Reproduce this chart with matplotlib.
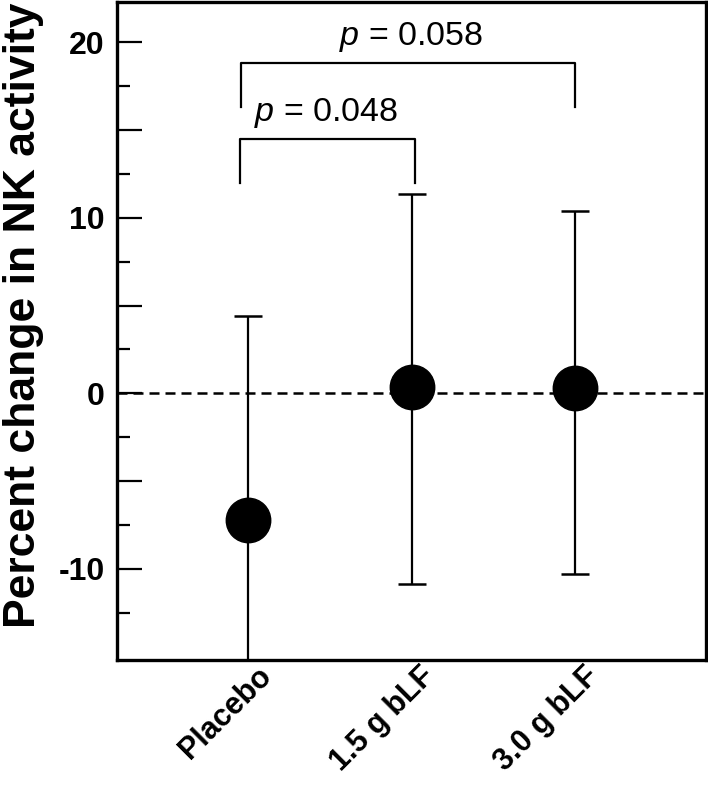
import matplotlib
matplotlib.use('Agg')
import matplotlib.pyplot as plt
import matplotlib.transforms as mtransforms
from matplotlib.ticker import FixedLocator, FixedFormatter

plt.rcParams['font.family'] = ['Liberation Sans', 'DejaVu Sans']
plt.rcParams['mathtext.fontset'] = 'custom'
plt.rcParams['mathtext.it'] = 'Liberation Sans:italic'
plt.rcParams['mathtext.rm'] = 'Liberation Sans'

groups = ['Placebo', '1.5 g bLF', '3.0 g bLF']
means = [-7.2, 0.35, 0.3]
sd_upper = [11.6, 11.0, 10.1]
sd_lower = [11.6, 11.2, 10.6]

# significance brackets: (x_left, x_right, leg_bottom, bar_top, label, text_x, text_y)
brackets = [
    (0.95, 2.02, 12.0, 14.5, r'$p$ = 0.048', 1.48, 16.0),
    (0.96, 3.0, 16.3, 18.8, r'$p$ = 0.058', 2.0, 20.3),
]

fig = plt.figure(figsize=(7.08, 7.85), dpi=100)
ax = fig.add_axes([117 / 708, 1 - 660 / 785, 589 / 708, 658 / 785])

x = [1, 2, 3]
ax.axhline(0, color='black', lw=1.8, linestyle=(0, (4, 2.4)), zorder=1)
ax.errorbar(x, means, yerr=[sd_lower, sd_upper], fmt='o', color='black',
            ms=32, elinewidth=1.6, capsize=10, capthick=1.8, zorder=3)

for xl, xr, lo, hi, label, tx, ty in brackets:
    ax.plot([xl, xl, xr, xr], [lo, hi, hi, lo], color='black', lw=1.6)
    ax.text(tx, ty, label, ha='center', va='center', fontsize=24.5,
            math_fontfamily='custom')

ax.set_xlim(0.2, 3.8)
ax.set_ylim(-15.2, 22.3)

for side in ax.spines.values():
    side.set_linewidth(2.4)

major = [-10, -5, 0, 5, 10, 15, 20]
major_lbl = ['-10', '', '0', '', '10', '', '20']
minor = [-12.5, -7.5, -2.5, 2.5, 7.5, 12.5, 17.5]
ax.yaxis.set_major_locator(FixedLocator(major))
ax.yaxis.set_major_formatter(FixedFormatter(major_lbl))
ax.yaxis.set_minor_locator(FixedLocator(minor))
ax.tick_params(axis='y', which='major', direction='in', length=18, width=1.6,
               pad=9, labelsize=23)
ax.tick_params(axis='y', which='minor', direction='in', length=9, width=1.6)
for t in ax.get_yticklabels():
    t.set_fontweight('bold')

ax.set_xticks(x)
ax.set_xticklabels(groups, rotation=45, ha='right', rotation_mode='anchor',
                   fontsize=22, fontweight='bold')
ax.tick_params(axis='x', length=0, pad=1)
shift = mtransforms.ScaledTranslation(6 / 72, 0, fig.dpi_scale_trans)
for t in ax.get_xticklabels():
    t.set_transform(t.get_transform() + shift)

fig.text(24 / 708, 1 - 315 / 785, 'Percent change in NK activity', rotation=90,
         ha='center', va='center', fontsize=32, fontweight='bold')

fig.savefig('out.png', dpi=100)
